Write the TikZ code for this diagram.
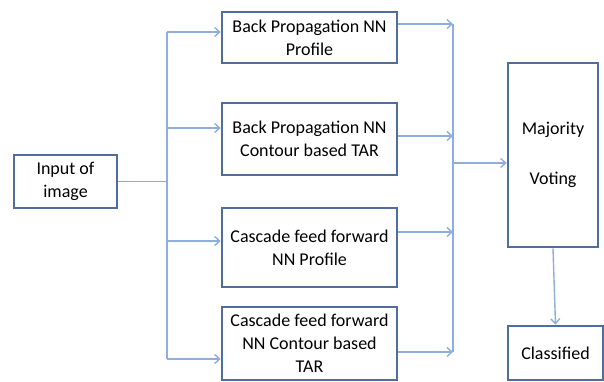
\documentclass[tikz,border=0pt]{standalone}
\usepackage{fontspec}
\setmainfont{Carlito}
\usetikzlibrary{arrows.meta}
\definecolor{boxline}{RGB}{79,110,156}
\definecolor{wirecol}{RGB}{142,175,220}
\tikzset{
  stage/.style={draw=boxline,line width=2.6pt,fill=white,inner sep=0pt,align=center,
    font=\fontsize{18}{23}\selectfont},
  wire/.style={draw=wirecol,line width=1.4pt},
  feed/.style={wire,-{Straight Barb[length=5pt,width=9pt]}},
}
\begin{document}
\begin{tikzpicture}[x=1pt,y=-1pt]
  \useasboundingbox (0,0) rectangle (604,381);
  % boxes
  \node[stage,minimum width=103pt,minimum height=53pt] (in) at (65.5,181.5) {Input of\\image};
  \node[stage,minimum width=175pt,minimum height=51pt] (bp1) at (309.5,37.5) {Back Propagation NN\\Profile};
  \node[stage,minimum width=175pt,minimum height=72pt] (bp2) at (309.5,139) {Back Propagation NN\\Contour based TAR};
  \node[stage,minimum width=175pt,minimum height=79pt] (cf1) at (309.5,247.5) {Cascade feed forward\\NN Profile};
  \node[stage,minimum width=175pt,minimum height=73pt] (cf2) at (309.5,343.5) {Cascade feed forward\\NN Contour based\\TAR};
  \node[stage,minimum width=90pt,minimum height=184pt] (vote) at (553,155) {Majority\\[27pt]Voting};
  \node[stage,minimum width=95pt,minimum height=54pt] (cls) at (555.5,353) {Classified};
  % split bus
  \path (167,32) coordinate (l1) (167,128) coordinate (l2)
        (167,241) coordinate (l3) (167,359) coordinate (l4);
  \draw[wire] (l1) -- (l4);
  \draw[wire] (in.east) -- (in.east -| l1);
  \foreach \c/\b in {l1/bp1,l2/bp2,l3/cf1,l4/cf2}
    \draw[feed] (\c) -- (\c -| \b.west);
  % merge bus
  \path (453,24) coordinate (r1) (453,136) coordinate (r2)
        (453,232) coordinate (r3) (453,352) coordinate (r4)
        (453,163) coordinate (rm);
  \draw[wire] (r1) -- (r4);
  \foreach \c/\b in {r1/bp1,r2/bp2,r3/cf1,r4/cf2}
    \draw[feed] (\c -| \b.east) -- (\c);
  \draw[feed] (rm) -- (rm -| vote.west);
  \draw[feed] (vote.south) -- (cls.north);
\end{tikzpicture}
\end{document}
